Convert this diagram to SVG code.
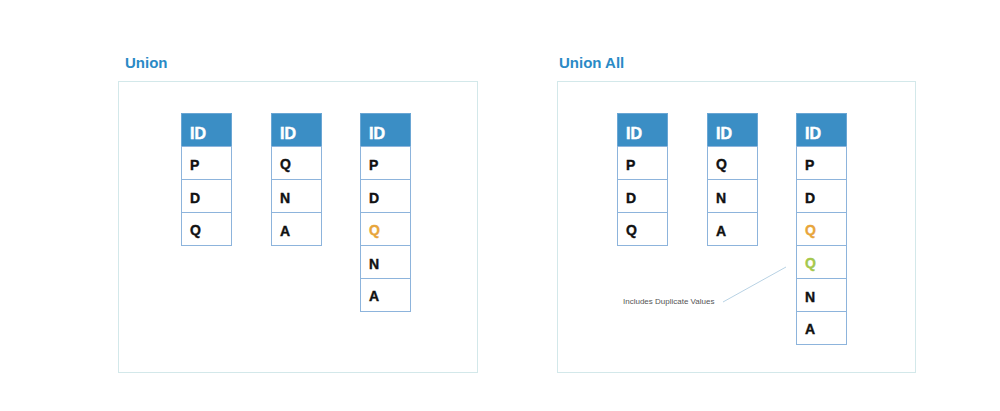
<svg xmlns="http://www.w3.org/2000/svg" width="1000" height="411" viewBox="0 0 1000 411">
<style>
.panel{fill:#fff;stroke:#d3e8ea;stroke-width:1}
.title{font-family:"Liberation Sans",Arial,sans-serif;font-weight:bold;font-size:15px;fill:#2a8ac6}
.hd{fill:#3b8ec5;stroke:#6aa6d4;stroke-width:1}
.cell{fill:#fff;stroke:#8db4dc;stroke-width:1}
.ht{font-family:"Liberation Sans",Arial,sans-serif;font-weight:bold;font-size:16px;fill:#fff;stroke:#fff;stroke-width:0.5}
.ct{font-family:"Liberation Sans",Arial,sans-serif;font-weight:bold;font-size:14px;fill:#111;stroke:#111;stroke-width:0.4}
.or{fill:#e8a53a;stroke:#e8a53a}
.gr{fill:#a5c84c;stroke:#a5c84c}
.note{font-family:"Liberation Sans",Arial,sans-serif;font-size:8px;fill:#555}
</style>
<rect width="1000" height="411" fill="#fff"/>
<g id="union">
<text class="title" x="125" y="68">Union</text>
<rect class="panel" x="118.5" y="81.5" width="359" height="291"/>
</g>
<g id="union-all">
<text class="title" x="559" y="68">Union All</text>
<rect class="panel" x="557.5" y="81.5" width="358" height="291"/>
</g>
<g id="u-t1">
<rect class="hd" x="181.5" y="113.5" width="50" height="33"/><text class="ht" x="190" y="139">ID</text>
<rect class="cell" x="181.5" y="146.5" width="50" height="33"/><text class="ct" x="190" y="170">P</text>
<rect class="cell" x="181.5" y="179.5" width="50" height="33"/><text class="ct" x="190" y="203">D</text>
<rect class="cell" x="181.5" y="212.5" width="50" height="33"/><text class="ct" x="190" y="235">Q</text>
</g>
<g id="u-t2">
<rect class="hd" x="271.5" y="113.5" width="50" height="33"/><text class="ht" x="280" y="139">ID</text>
<rect class="cell" x="271.5" y="146.5" width="50" height="33"/><text class="ct" x="280" y="169">Q</text>
<rect class="cell" x="271.5" y="179.5" width="50" height="33"/><text class="ct" x="280" y="203">N</text>
<rect class="cell" x="271.5" y="212.5" width="50" height="33"/><text class="ct" x="280" y="236">A</text>
</g>
<g id="u-t3">
<rect class="hd" x="360.5" y="113.5" width="50" height="33"/><text class="ht" x="369" y="139">ID</text>
<rect class="cell" x="360.5" y="146.5" width="50" height="33"/><text class="ct" x="369" y="170">P</text>
<rect class="cell" x="360.5" y="179.5" width="50" height="33"/><text class="ct" x="369" y="203">D</text>
<rect class="cell" x="360.5" y="212.5" width="50" height="33"/><text class="ct or" x="369" y="235">Q</text>
<rect class="cell" x="360.5" y="245.5" width="50" height="33"/><text class="ct" x="369" y="269">N</text>
<rect class="cell" x="360.5" y="278.5" width="50" height="33"/><text class="ct" x="369" y="301">A</text>
</g>
<g id="a-t1">
<rect class="hd" x="617.5" y="113.5" width="50" height="33"/><text class="ht" x="626" y="139">ID</text>
<rect class="cell" x="617.5" y="146.5" width="50" height="33"/><text class="ct" x="626" y="170">P</text>
<rect class="cell" x="617.5" y="179.5" width="50" height="33"/><text class="ct" x="626" y="203">D</text>
<rect class="cell" x="617.5" y="212.5" width="50" height="33"/><text class="ct" x="626" y="235">Q</text>
</g>
<g id="a-t2">
<rect class="hd" x="707.5" y="113.5" width="50" height="33"/><text class="ht" x="716" y="139">ID</text>
<rect class="cell" x="707.5" y="146.5" width="50" height="33"/><text class="ct" x="716" y="169">Q</text>
<rect class="cell" x="707.5" y="179.5" width="50" height="33"/><text class="ct" x="716" y="203">N</text>
<rect class="cell" x="707.5" y="212.5" width="50" height="33"/><text class="ct" x="716" y="236">A</text>
</g>
<g id="a-t3">
<rect class="hd" x="796.5" y="113.5" width="50" height="33"/><text class="ht" x="805" y="139">ID</text>
<rect class="cell" x="796.5" y="146.5" width="50" height="33"/><text class="ct" x="805" y="170">P</text>
<rect class="cell" x="796.5" y="179.5" width="50" height="33"/><text class="ct" x="805" y="203">D</text>
<rect class="cell" x="796.5" y="212.5" width="50" height="33"/><text class="ct or" x="805" y="235">Q</text>
<rect class="cell" x="796.5" y="245.5" width="50" height="33"/><text class="ct gr" x="805" y="268">Q</text>
<rect class="cell" x="796.5" y="278.5" width="50" height="33"/><text class="ct" x="805" y="302">N</text>
<rect class="cell" x="796.5" y="311.5" width="50" height="33"/><text class="ct" x="805" y="334">A</text>
</g>
<g id="note">
<text class="note" x="623" y="304">Includes Duplicate Values</text>
</g>
<g id="connectors">
<line x1="723" y1="302" x2="786" y2="267" stroke="#b8d2e4" stroke-width="1"/>
</g>
</svg>
